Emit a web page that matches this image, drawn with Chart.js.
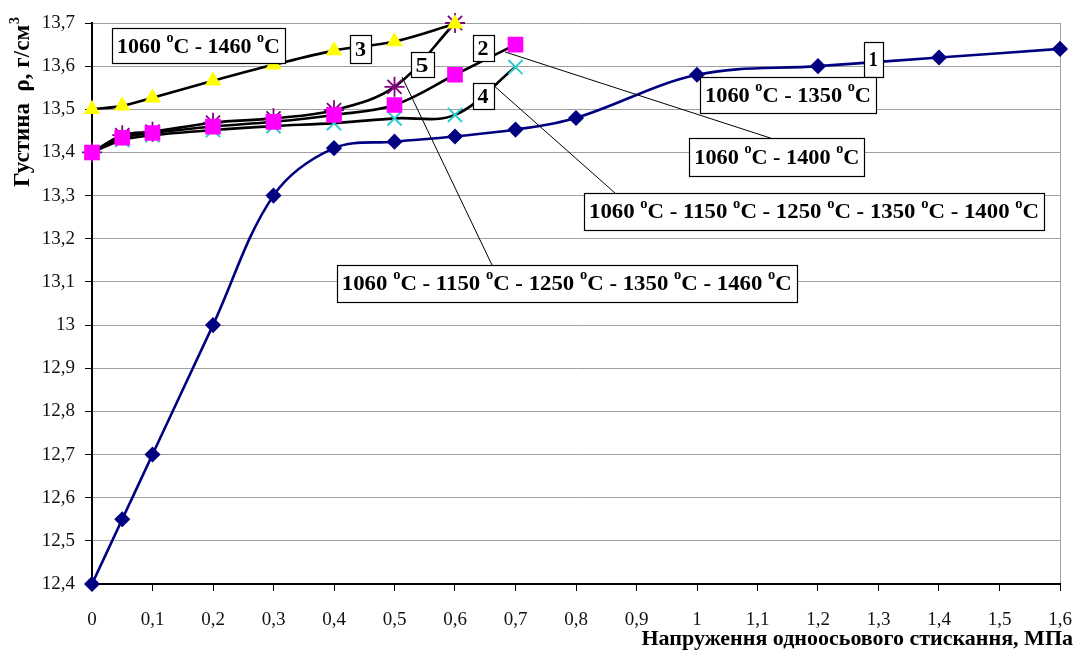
<!DOCTYPE html>
<html><head><meta charset="utf-8">
<script src="https://cdn.jsdelivr.net/npm/chart.js@4/dist/chart.umd.min.js"></script>
<style>html,body{margin:0;padding:0;background:#fff;}#wrap{width:1078px;height:653px;}</style>
</head><body><div id="wrap"><canvas id="c" width="1078" height="653"></canvas></div>
<script>
// ---- tick labels ----
const xTickValues = [0,0.1,0.2,0.3,0.4,0.5,0.6,0.7,0.8,0.9,1.0,1.1,1.2,1.3,1.4,1.5,1.6];
const xTickLabels = ['0','0,1','0,2','0,3','0,4','0,5','0,6','0,7','0,8','0,9','1','1,1','1,2','1,3','1,4','1,5','1,6'];
const yTickValues = [12.4,12.5,12.6,12.7,12.8,12.9,13.0,13.1,13.2,13.3,13.4,13.5,13.6,13.7];
const yTickLabels = ['12,4','12,5','12,6','12,7','12,8','12,9','13','13,1','13,2','13,3','13,4','13,5','13,6','13,7'];

// ---- series ----
const s1X = [0,0.05,0.1,0.2,0.3,0.4,0.5,0.6,0.7,0.8,1.0,1.2,1.4,1.6];
const s1Y = [12.4,12.55,12.7,13.0,13.3,13.41,13.425,13.437,13.453,13.48,13.58,13.6,13.62,13.64];
const s2X = [0,0.05,0.1,0.2,0.3,0.4,0.5,0.6,0.7];
const s2Y = [13.4,13.434,13.445,13.46,13.471,13.487,13.51,13.58,13.65];
const s3X = [0,0.05,0.1,0.2,0.3,0.4,0.5,0.6];
const s3Y = [13.5,13.508,13.527,13.566,13.603,13.636,13.657,13.698];
const s4X = [0,0.05,0.1,0.2,0.3,0.4,0.5,0.6,0.7];
const s4Y = [13.4,13.429,13.44,13.452,13.461,13.468,13.479,13.487,13.598];
const s5X = [0,0.05,0.1,0.2,0.3,0.4,0.5,0.6];
const s5Y = [13.4,13.44,13.448,13.469,13.479,13.498,13.552,13.7];

// ---- texts ----
const xTitle = 'Напруження одноосьового стискання, МПа';
const yTitle = 'Густина  ρ, г/см';
const yTitleSup = '3';
const annoTexts = ['1060 °C - 1460 °C','3','5','2','4','1','1060 °C - 1350 °C','1060 °C - 1400 °C',
  '1060 °C - 1150 °C - 1250 °C - 1350 °C - 1400 °C','1060 °C - 1150 °C - 1250 °C - 1350 °C - 1460 °C'];

// ---- annotation layout (data coordinates for centers, pixel sizes) ----
const annoAt = [[0.1759,13.647],[0.4438,13.640],[0.5455,13.603],[0.6463,13.641],[0.6463,13.530],[1.2914,13.616],
  [1.1504,13.533],[1.1319,13.389],[1.1934,13.263],[0.7848,13.097]];
const annoSize = [[173,35],[21,28],[23,25],[21,26],[21,26],[19,35],[176,36],[175,38],[460,37],[460,37]];
const leaders = [[[0.6826,13.633],[1.1223,13.433]],[[0.6633,13.556],[0.8645,13.306]],[[0.5124,13.575],[0.6612,13.139]]];

const SERIF = "'Liberation Serif','Times New Roman',serif";
const zip = (xs, ys) => xs.map((x, i) => ({x, y: ys[i]}));

function drawRich(ctx, text, cx, cy, size, boxW) {
  const parts = text.split('°');
  const mainF = 'bold ' + size + 'px ' + SERIF;
  const supF = 'bold ' + Math.round(size * 0.62) + 'px ' + SERIF;
  let w = 0;
  const segs = [];
  parts.forEach((p, i) => {
    ctx.font = mainF; segs.push({t: p, f: mainF, dy: 0, w: ctx.measureText(p).width}); w += segs[segs.length-1].w;
    if (i < parts.length - 1) { ctx.font = supF; const sw = ctx.measureText('o').width; segs.push({t: 'o', f: supF, dy: -size * 0.38, w: sw}); w += sw; }
  });
  let sx = 1;
  if (boxW) { sx = (boxW - 10) / w; sx = Math.max(0.8, Math.min(1.2, sx)); }
  ctx.save(); ctx.translate(cx, cy); ctx.scale(sx, 1);
  let x = -w / 2;
  ctx.textBaseline = 'middle'; ctx.textAlign = 'left'; ctx.fillStyle = '#000';
  segs.forEach(s => { ctx.font = s.f; ctx.fillText(s.t, x, s.dy + 1); x += s.w; });
  ctx.restore();
}

const annoPlugin = {
  id: 'anno',
  afterDatasetsDraw(chart) {
    const ctx = chart.ctx, xs = chart.scales.x, ys = chart.scales.y;
    ctx.save();
    ctx.strokeStyle = '#000'; ctx.lineWidth = 1;
    leaders.forEach(l => {
      ctx.beginPath();
      ctx.moveTo(xs.getPixelForValue(l[0][0]), ys.getPixelForValue(l[0][1]));
      ctx.lineTo(xs.getPixelForValue(l[1][0]), ys.getPixelForValue(l[1][1]));
      ctx.stroke();
    });
    annoTexts.forEach((t, i) => {
      const cx = xs.getPixelForValue(annoAt[i][0]), cy = ys.getPixelForValue(annoAt[i][1]);
      const [w, h] = annoSize[i];
      ctx.fillStyle = '#fff'; ctx.fillRect(Math.round(cx - w/2) + 0.5, Math.round(cy - h/2) + 0.5, w, h);
      ctx.strokeStyle = '#000'; ctx.lineWidth = 1.2;
      ctx.strokeRect(Math.round(cx - w/2) + 0.5, Math.round(cy - h/2) + 0.5, w, h);
      drawRich(ctx, t, cx, cy, 22, w);
    });
    // axis titles
    ctx.fillStyle = '#000';
    ctx.font = 'bold 22px ' + SERIF; ctx.textAlign = 'right'; ctx.textBaseline = 'middle';
    ctx.fillText(xTitle, 1073, 639);
    ctx.save(); ctx.translate(23, 187); ctx.rotate(-Math.PI / 2);
    ctx.font = 'bold 23px ' + SERIF; ctx.textAlign = 'left';
    ctx.fillText(yTitle, 0, 0);
    const tw = ctx.measureText(yTitle).width;
    ctx.font = 'bold 14px ' + SERIF; ctx.fillText(yTitleSup, tw + 1, -8);
    ctx.restore();
    ctx.restore();
  }
};

const common = {showLine: true, clip: false, tension: 0.35, borderWidth: 2.6, pointBorderWidth: 1.5};
new Chart(document.getElementById('c'), {
  type: 'line',
  data: {datasets: [
    Object.assign({}, common, {label: '1', data: zip(s1X, s1Y), borderColor: '#000080', pointStyle: 'rectRot', pointRadius: 7,
      pointBackgroundColor: '#000080', pointBorderColor: '#000080'}),
    Object.assign({}, common, {label: '2', data: zip(s2X, s2Y), borderColor: '#000', pointStyle: 'rect', pointRadius: 10,
      pointBackgroundColor: '#ff00ff', pointBorderColor: '#ff00ff'}),
    Object.assign({}, common, {label: '3', data: zip(s3X, s3Y), borderColor: '#000', pointStyle: 'triangle', pointRadius: 8,
      pointBackgroundColor: '#ffff00', pointBorderColor: '#ffff00'}),
    Object.assign({}, common, {label: '4', data: zip(s4X, s4Y), borderColor: '#000', pointStyle: 'crossRot', pointRadius: 10,
      pointBorderWidth: 2, pointBackgroundColor: '#33cccc', pointBorderColor: '#33cccc'}),
    Object.assign({}, common, {label: '5', data: zip(s5X, s5Y), borderColor: '#000', pointStyle: 'star', pointRadius: 10,
      pointBorderWidth: 1.8, pointBackgroundColor: '#800080', pointBorderColor: '#800080'})
  ]},
  options: {
    responsive: false, animation: false, devicePixelRatio: 1,
    layout: {padding: {top: 23, right: 18, left: 0, bottom: 0}},
    plugins: {legend: {display: false}, tooltip: {enabled: false}},
    scales: {
      x: {type: 'linear', min: 0, max: 1.6,
        afterFit(s) { s.height = 69; s.paddingRight = 0; s.paddingLeft = 0; },
        afterBuildTicks(s) { s.ticks = xTickValues.map(v => ({value: v})); },
        ticks: {callback: (v, i) => xTickLabels[i], font: {family: SERIF, size: 19}, color: '#111', padding: 18, maxRotation: 0, autoSkip: false},
        grid: {color: c => c.index === xTickValues.length - 1 ? '#a0a0a0' : 'rgba(0,0,0,0)', tickColor: '#000', tickLength: 7, lineWidth: 1},
        border: {color: '#000', width: 2}
      },
      y: {type: 'linear', min: 12.4, max: 13.7,
        afterFit(s) { s.width = 92; },
        afterBuildTicks(s) { s.ticks = yTickValues.map(v => ({value: v})); },
        ticks: {callback: (v, i) => yTickLabels[i], font: {family: SERIF, size: 19}, color: '#111', padding: 10, autoSkip: false},
        grid: {color: '#a0a0a0', tickColor: '#000', tickLength: 7, lineWidth: 1},
        border: {color: '#000', width: 2}
      }
    }
  },
  plugins: [annoPlugin]
});
</script></body></html>
